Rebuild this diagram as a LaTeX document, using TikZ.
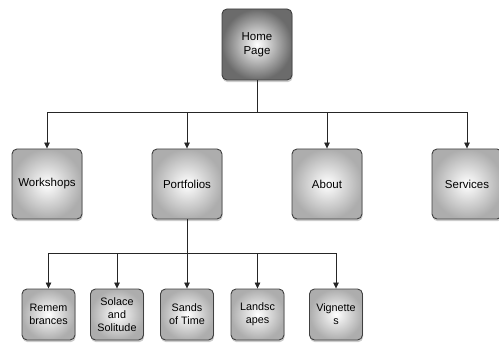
\documentclass[tikz,border=0pt]{standalone}
\usepackage{fontspec}
\setmainfont{Liberation Sans}
\usetikzlibrary{shadows,arrows.meta}
\tikzset{
  base/.style={draw=black!75, line width=0.9pt, rounded corners=5pt, align=center,
    inner color=white, outer color=black!32, text=black,
    drop shadow={opacity=0.4, shadow xshift=0.6pt, shadow yshift=-2.2pt},
    font=\fontsize{11.5}{13.5}\selectfont},
  homebox/.style={base, minimum width=70pt, minimum height=71pt, outer color=black!58, inner color=white},
  mainbox/.style={base, minimum width=70pt, minimum height=70pt},
  subbox/.style={base, minimum width=53pt, minimum height=51pt, inner sep=1pt,
    font=\fontsize{10.8}{13}\selectfont},
  conn/.style={draw=black!85, line width=0.7pt, -{Triangle[length=6pt,width=5.5pt]}},
  plain/.style={draw=black!85, line width=0.7pt}
}
\begin{document}
\begin{tikzpicture}[x=1pt,y=-1pt]
\useasboundingbox (0,0) rectangle (499,345);
\node[homebox] (home) at (257,44.5) {Home\\Page};
\node[mainbox] (ws) at (47,184) {Workshops};
\node[mainbox] (pf) at (187,184) {Portfolios};
\node[mainbox] (ab) at (327,184) {About};
\node[mainbox] (sv) at (467,184) {Services};
\node[subbox] (s1) at (48.5,314.5) {Remem\\brances};
\node[subbox] (s2) at (117,314.5) {Solace\\and\\Solitude};
\node[subbox] (s3) at (187,314.5) {Sands\\of Time};
\node[subbox] (s4) at (257.5,314.5) {Landsc\\apes};
\node[subbox] (s5) at (336,314.5) {Vignette\\s};
\coordinate (b1) at (257,112);
\coordinate (b2) at (187,253);
\draw[plain] (home.south) -- (b1);
\draw[conn] (b1) -| (ws.north);
\draw[conn] (b1) -| (pf.north);
\draw[conn] (b1) -| (ab.north);
\draw[conn] (b1) -| (sv.north);
\draw[plain] (pf.south) -- (b2);
\draw[conn] (b2) -| (s1.north);
\draw[conn] (b2) -| (s2.north);
\draw[conn] (b2) -- (s3.north);
\draw[conn] (b2) -| (s4.north);
\draw[conn] (b2) -| (s5.north);
\end{tikzpicture}
\end{document}
